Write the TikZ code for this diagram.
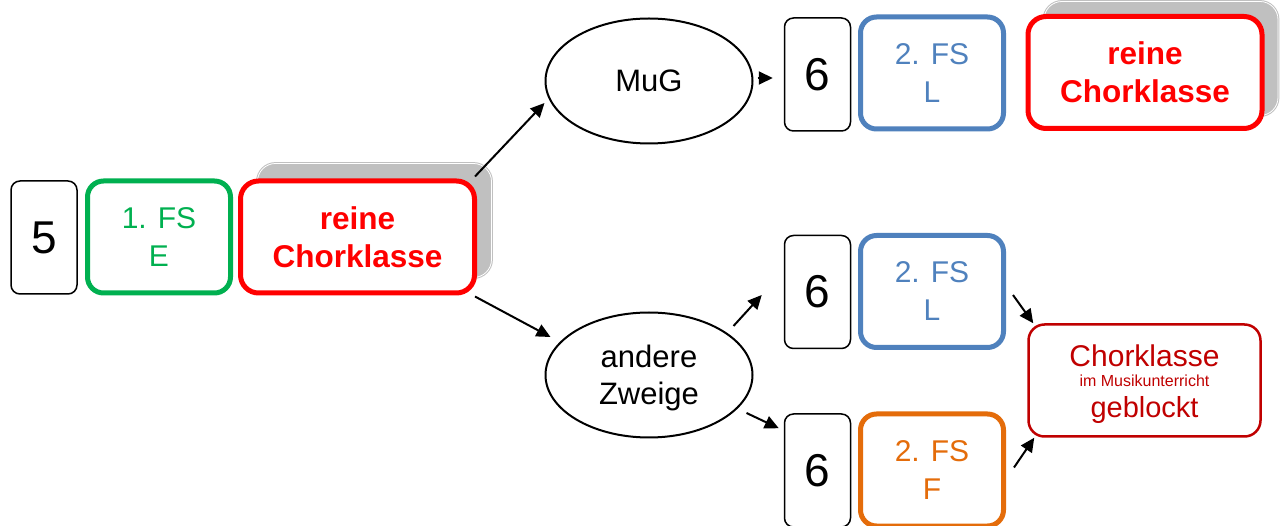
\documentclass[tikz,border=0pt]{standalone}
\usepackage{fontspec}
\setmainfont{Liberation Sans}
\usetikzlibrary{arrows.meta,shapes.geometric}
\definecolor{fsgreen}{HTML}{00B050}
\definecolor{fsred}{HTML}{FF0000}
\definecolor{fsblue}{HTML}{4F81BD}
\definecolor{fsorange}{HTML}{E46C0A}
\definecolor{darkred}{HTML}{C00000}
\definecolor{shadowgray}{HTML}{C0C0C0}
\begin{document}
\begin{tikzpicture}[x=1pt,y=-1pt,
  numbox/.style={draw=black, line width=1.5pt, rounded corners=9pt, minimum width=66pt, minimum height=113pt, inner sep=0pt, font=\fontsize{46}{46}\selectfont},
  fsbox/.style={draw=#1, text=#1, line width=5pt, rounded corners=16pt, minimum width=143pt, minimum height=112pt, inner sep=0pt, align=center, font=\fontsize{30}{38}\selectfont},
  chorbox/.style={draw=fsred, text=fsred, fill=white, line width=5pt, rounded corners=18pt, minimum width=234pt, minimum height=112pt, inner sep=0pt, align=center, font=\bfseries\fontsize{31.5}{38}\selectfont},
  shadowbox/.style={draw=shadowgray, fill=shadowgray, line width=1pt, double=white, double distance=0.8pt, rounded corners=18pt, minimum width=234pt, minimum height=114pt, inner sep=0pt},
  branch/.style={draw=black, line width=2pt, ellipse, minimum width=207pt, minimum height=125pt, inner sep=0pt, align=center, font=\fontsize{31}{36.5}\selectfont},
  gebox/.style={draw=darkred, line width=2.5pt, rounded corners=16pt, minimum width=232pt, minimum height=112pt, inner sep=0pt},
  gebtext/.style={text=darkred, anchor=base, inner sep=0pt},
  arr/.style={line width=2pt, -{Triangle[length=14pt,width=13pt]}},
]
\clip (0,0) rectangle (1283,526);
\fill[white] (0,0) rectangle (1283,526);

% left chain
\node[numbox] (five) at (44,237.5) {5};
\node[fsbox=fsgreen] (fs1) at (159,237) {1. FS\\E};
\node[shadowbox] (shadowA) at (374.5,220.5) {};
\node[chorbox] (chorA) at (357.5,237) {reine\\Chorklasse};

% branches
\node[branch] (mug) at (649,81) {MuG};
\node[branch] (andere) at (649,375) {};
\node[font=\fontsize{31}{36.5}\selectfont, align=center, inner sep=0pt] (andereText) at (649,378) {andere\\Zweige};

% top row
\node[numbox] (sixA) at (817.5,74.5) {6};
\node[fsbox=fsblue] (fs2a) at (932,73) {2. FS\\L};
\node[shadowbox] (shadowB) at (1161,58.5) {};
\node[chorbox] (chorB) at (1145,72.5) {reine\\Chorklasse};

% middle row
\node[numbox] (sixB) at (817.5,292) {6};
\node[fsbox=fsblue] (fs2b) at (932,291.5) {2. FS\\L};

% bottom row
\node[numbox] (sixC) at (817.5,470.5) {6};
\node[fsbox=fsorange] (fs2c) at (932,470) {2. FS\\F};

% blocked choir box
\node[gebox] (geb) at (1144.5,380.5) {};
\node[gebtext, font=\fontsize{30}{30}\selectfont] (geb1) at (1144.5,367) {Chorklasse};
\node[gebtext, font=\fontsize{16}{16}\selectfont] (geb2) at (1144.5,387) {im Musikunterricht};
\node[gebtext, font=\fontsize{29}{29}\selectfont] (geb3) at (1144.5,418) {geblockt};

% connectors
\draw[arr] ([shift={(-2pt,2pt)}]chorA.north east) -- ([yshift=-22pt]mug.west);
\draw[arr] ([shift={(-2pt,-1pt)}]chorA.south east) -- ([shift={(6pt,38pt)}]andere.west);
\draw[arr] ([shift={(4pt,3pt)}]mug.east) -- ([shift={(-11pt,-3.5pt)}]sixA.west);
\draw[arr] ([shift={(-20pt,49pt)}]andere.east) -- ([shift={(-22pt,-3pt)}]sixB.west);
\draw[arr] ([shift={(-7pt,-38pt)}]andere.east) -- ([shift={(-5pt,-15pt)}]sixC.north west);
\draw[arr] ([shift={(7pt,-3.5pt)}]fs2b.east) -- ([xshift=6pt]geb.north west);
\draw[arr] ([shift={(8pt,2.5pt)}]fs2c.east) -- ([xshift=7pt]geb.south west);
\end{tikzpicture}
\end{document}
